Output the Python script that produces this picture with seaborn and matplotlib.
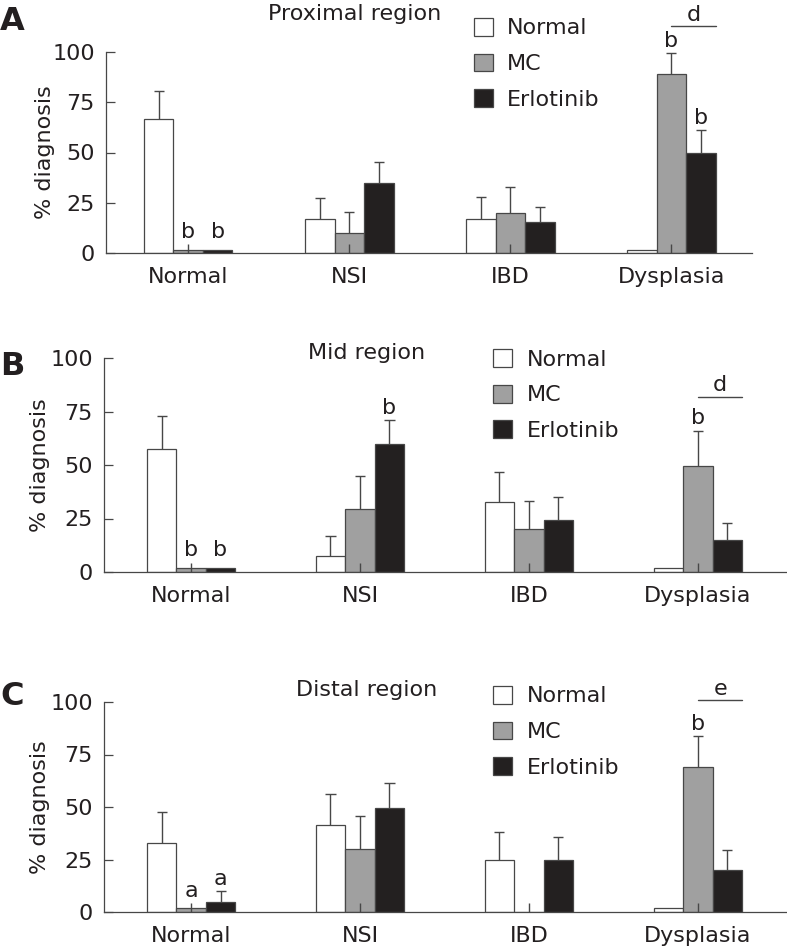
import matplotlib
matplotlib.use("Agg")
import matplotlib.pyplot as plt
import seaborn as sns
import pandas as pd

categories = ["Normal", "NSI", "IBD", "Dysplasia"]
groups = ["Normal", "MC", "Erlotinib"]
regions = ["Proximal region", "Mid region", "Distal region"]
panel_letters = ["A", "B", "C"]

# mean % diagnosis per group, in category order
prox_mean = {"Normal": [66.7, 16.7, 16.7, 1.7], "MC": [1.7, 10.0, 20.0, 89.0], "Erlotinib": [1.7, 34.7, 15.3, 50.0]}
prox_err = {"Normal": [14.0, 10.8, 11.0, 0], "MC": [0, 10.2, 12.7, 10.3], "Erlotinib": [0, 10.7, 7.7, 11.0]}
mid_mean = {"Normal": [57.4, 7.7, 32.7, 1.7], "MC": [1.7, 29.4, 20.0, 49.5], "Erlotinib": [1.7, 60.0, 24.5, 15.0]}
mid_err = {"Normal": [15.6, 9.0, 14.2, 0], "MC": [0, 15.6, 13.0, 16.5], "Erlotinib": [0, 11.0, 10.5, 7.8]}
dist_mean = {"Normal": [32.9, 41.2, 24.6, 1.7], "MC": [1.7, 30.0, 0.0, 69.0], "Erlotinib": [4.8, 49.5, 25.0, 20.1]}
dist_err = {"Normal": [14.5, 15.1, 13.3, 0], "MC": [0, 15.5, 0, 14.6], "Erlotinib": [5.2, 11.9, 10.7, 9.2]}

# significance letters: (category, group, letter)
prox_sig = [("Normal", "MC", "b"), ("Normal", "Erlotinib", "b"), ("Dysplasia", "MC", "b"), ("Dysplasia", "Erlotinib", "b")]
mid_sig = [("Normal", "MC", "b"), ("Normal", "Erlotinib", "b"), ("NSI", "Erlotinib", "b"), ("Dysplasia", "MC", "b")]
dist_sig = [("Normal", "MC", "a"), ("Normal", "Erlotinib", "a"), ("Dysplasia", "MC", "b")]
# MC vs Erlotinib bracket in Dysplasia: (letter, height)
brackets = [("d", 113), ("d", 82), ("e", 101)]

means = [prox_mean, mid_mean, dist_mean]
errs = [prox_err, mid_err, dist_err]
sigs = [prox_sig, mid_sig, dist_sig]

palette = {"Normal": "#ffffff", "MC": "#a0a0a0", "Erlotinib": "#231f20"}
line_col = "#474747"
text_col = "#231f20"

sns.set_style("ticks")
plt.rcParams["font.family"] = ["DejaVu Sans"]
plt.rcParams["text.color"] = text_col

W, H = 787, 948
fig = plt.figure(figsize=(W / 100, H / 100), dpi=100)

# axes boxes in pixels: left, right, y of 100, y of 0
boxes = [(106, 752, 52, 253), (104, 787, 358, 572), (104, 787, 702, 912)]
xlims = [(-0.51, 3.50), (-0.515, 3.527), (-0.515, 3.527)]
title_y = [1.19, 1.025, 1.059]
legend_y = [1.17, 1.042, 1.077]
letter_y = [6, 351, 681]

for i in range(3):
    l, r, t, b = boxes[i]
    ax = fig.add_axes([l / W, 1 - b / H, (r - l) / W, (b - t) / H])

    rows = []
    for g in groups:
        for c, v in zip(categories, means[i][g]):
            rows.append({"category": c, "group": g, "value": v})
    df = pd.DataFrame(rows)

    unit_px = (r - l) / (xlims[i][1] - xlims[i][0])
    width = 3 * 29.5 / unit_px
    sns.barplot(data=df, x="category", y="value", hue="group", order=categories,
                hue_order=groups, palette=palette, width=width, gap=0,
                edgecolor=line_col, linewidth=0.9, errorbar=None, ax=ax, zorder=2)

    # one-sided error bars and small base tick on MC bars
    centers = {}
    for g, cont in zip(groups, ax.containers):
        for c, p, e in zip(categories, cont.patches, errs[i][g]):
            x = p.get_x() + p.get_width() / 2
            top = p.get_height()
            centers[(c, g)] = (x, top + e, p)
            cw = p.get_width() * 0.17
            if e > 0:
                ax.vlines(x, top, top + e, color=line_col, lw=1.0, zorder=3)
                ax.hlines(top + e, x - cw, x + cw, color=line_col, lw=1.0, zorder=3)
            if g == "MC":
                ax.vlines(x, 0, 4.3, color=line_col, lw=1.0, zorder=3)

    for c, g, letter in sigs[i]:
        x, top, p = centers[(c, g)]
        ax.text(x, max(top, 4.3) + 3.0, letter, ha="center", va="baseline",
                fontsize=16, clip_on=False)

    letter, hy = brackets[i]
    x0 = centers[("Dysplasia", "MC")][0]
    pe = centers[("Dysplasia", "Erlotinib")][2]
    x1 = pe.get_x() + pe.get_width()
    ax.plot([x0, x1], [hy, hy], color=line_col, lw=1.0, clip_on=False)
    ax.text((x0 + x1) / 2, hy + 2.5, letter, ha="center", va="baseline",
            fontsize=16, clip_on=False)

    ax.set_xlim(*xlims[i])
    ax.set_ylim(0, 100)
    ax.set_yticks([0, 25, 50, 75, 100])
    ax.set_xlabel("")
    ax.set_ylabel("% diagnosis", fontsize=16, color=text_col)
    ax.yaxis.set_label_coords(-0.079, 0.5)
    ax.tick_params(axis="y", direction="in", length=6.5, width=0.9, color=line_col,
                   labelsize=16, pad=8, labelcolor=text_col)
    ax.tick_params(axis="x", length=0, labelsize=16, pad=10, labelcolor=text_col)
    sns.despine(ax=ax)
    for s in ["left", "bottom"]:
        ax.spines[s].set_color(line_col)
        ax.spines[s].set_linewidth(0.9)

    ax.text(0.385, title_y[i], regions[i], transform=ax.transAxes, ha="center",
            va="center", fontsize=16)

    handles, labels = ax.get_legend_handles_labels()
    ax.legend(handles, labels, loc="upper left", bbox_to_anchor=(0.57, legend_y[i]),
              frameon=False, fontsize=16, handlelength=0.86, handleheight=0.86,
              handletextpad=0.63, labelspacing=0.68, borderpad=0, borderaxespad=0)

    fig.text(0.0, 1 - letter_y[i] / H, panel_letters[i], fontsize=23,
             fontweight="bold", ha="left", va="top")

fig.savefig("out.png", dpi=100)
